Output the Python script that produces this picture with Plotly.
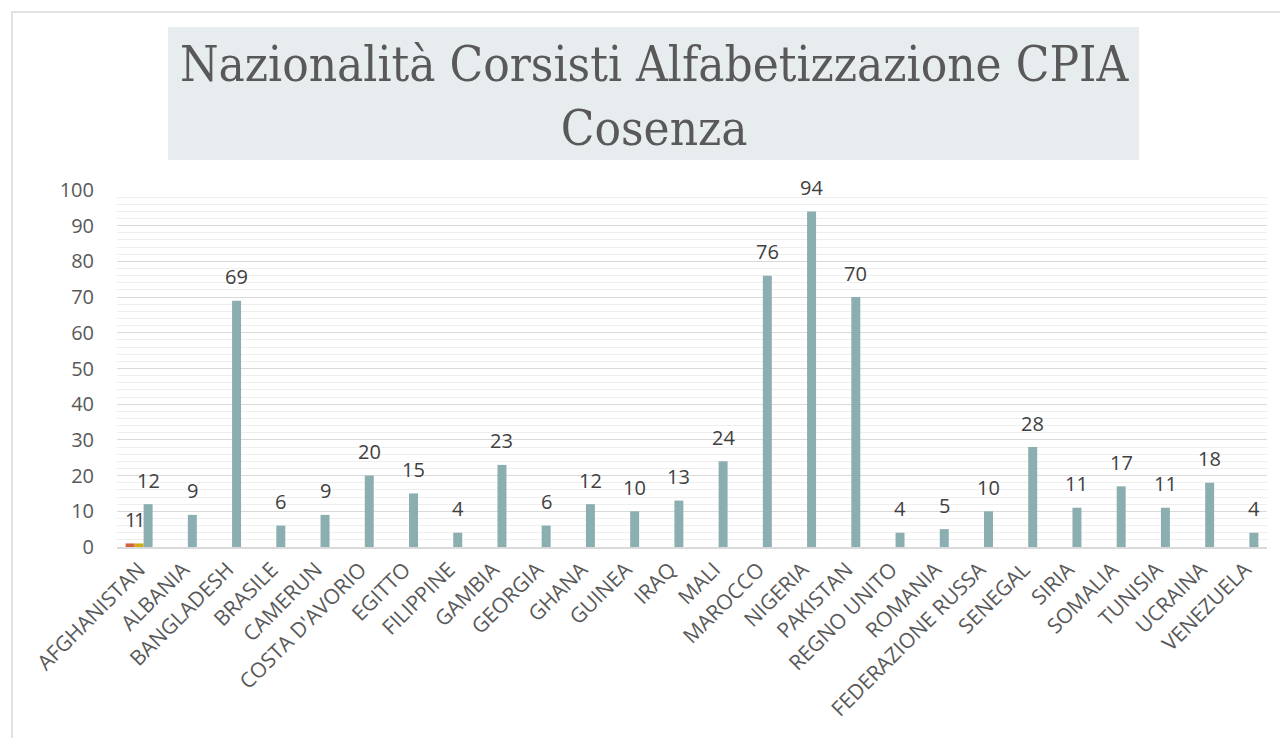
import plotly.graph_objects as go

categories = ["AFGHANISTAN", "ALBANIA", "BANGLADESH", "BRASILE", "CAMERUN", "COSTA D'AVORIO",
              "EGITTO", "FILIPPINE", "GAMBIA", "GEORGIA", "GHANA", "GUINEA", "IRAQ", "MALI",
              "MAROCCO", "NIGERIA", "PAKISTAN", "REGNO UNITO", "ROMANIA", "FEDERAZIONE RUSSA",
              "SENEGAL", "SIRIA", "SOMALIA", "TUNISIA", "UCRAINA", "VENEZUELA"]
series_red = [1] + [None] * 25
series_yellow = [1] + [None] * 25
series_main = [12, 9, 69, 6, 9, 20, 15, 4, 23, 6, 12, 10, 13, 24, 76, 94, 70, 4, 5, 10, 28, 11, 17, 11, 18, 4]

title_text = "Nazionalità Corsisti Alfabetizzazione CPIA<br>Cosenza"

OFF = 8  # page body margin
L, R, T, B = 117 - OFF, 1267 - OFF, 190 - OFF, 547 - OFF
W, H = 1288 - OFF, 738 - OFF
BARGAP = 0.39
cat_w = (R - L) / len(categories)
bar_w = cat_w * (1 - BARGAP) / 3

def px(x):
    return (x - OFF - L) / (R - L)
def py(y):
    return (B - (y - OFF)) / (B - T)

fig = go.Figure()
annots = []
series = [(series_red, "#D0623F"), (series_yellow, "#D3AE12"), (series_main, "#8BAFB0")]
for k, (vals, col) in enumerate(series):
    fig.add_trace(go.Bar(
        x=categories, y=vals, marker=dict(color=col, line=dict(width=0)),
        showlegend=False, hoverinfo="x+y",
    ))
    for c, v in zip(categories, vals):
        if v is None:
            continue
        annots.append(dict(
            x=c, y=v, xref="x", yref="y", text=str(v), showarrow=False,
            xanchor="center", yanchor="middle", xshift=(k - 1) * bar_w, yshift=24,
            font=dict(family="Open Sans", size=20, color="#404040"),
        ))

annots.append(dict(text=title_text, xref="paper", yref="paper", x=px(654), y=py(96),
                   xanchor="center", yanchor="middle", showarrow=False,
                   font=dict(family="DejaVu Serif Condensed", size=49, color="#595959")))

fig.update_layout(
    width=W, height=H,
    margin=dict(l=L, r=W - R, t=T, b=H - B, autoexpand=False),
    paper_bgcolor="white", plot_bgcolor="white",
    barmode="group", bargap=BARGAP, bargroupgap=0,
    font=dict(family="Open Sans", color="#595959"),
    xaxis=dict(tickangle=-45, tickfont=dict(size=21, color="#595959"),
               showgrid=False, showline=True, linecolor="#D9D9D9", linewidth=2,
               ticks="", fixedrange=True),
    yaxis=dict(range=[0, 100], dtick=10, tickfont=dict(size=20, color="#595959"),
               showgrid=True, gridcolor="#D9D9D9", gridwidth=1,
               minor=dict(dtick=2, showgrid=True, gridcolor="#EEEEEE", gridwidth=1),
               zeroline=False, ticks="", ticklabelstandoff=22, fixedrange=True),
    shapes=[
        dict(type="rect", xref="paper", yref="paper",
             x0=px(12), x1=px(1400), y0=py(900), y1=py(12),
             line=dict(color="#D9D9D9", width=1.5), fillcolor="rgba(0,0,0,0)", layer="below"),
        dict(type="rect", xref="paper", yref="paper",
             x0=px(168), x1=px(1139), y0=py(160), y1=py(27),
             line=dict(width=0), fillcolor="#E7ECEE", layer="below"),
    ],
    annotations=annots,
)

fig.write_html("out.html")
